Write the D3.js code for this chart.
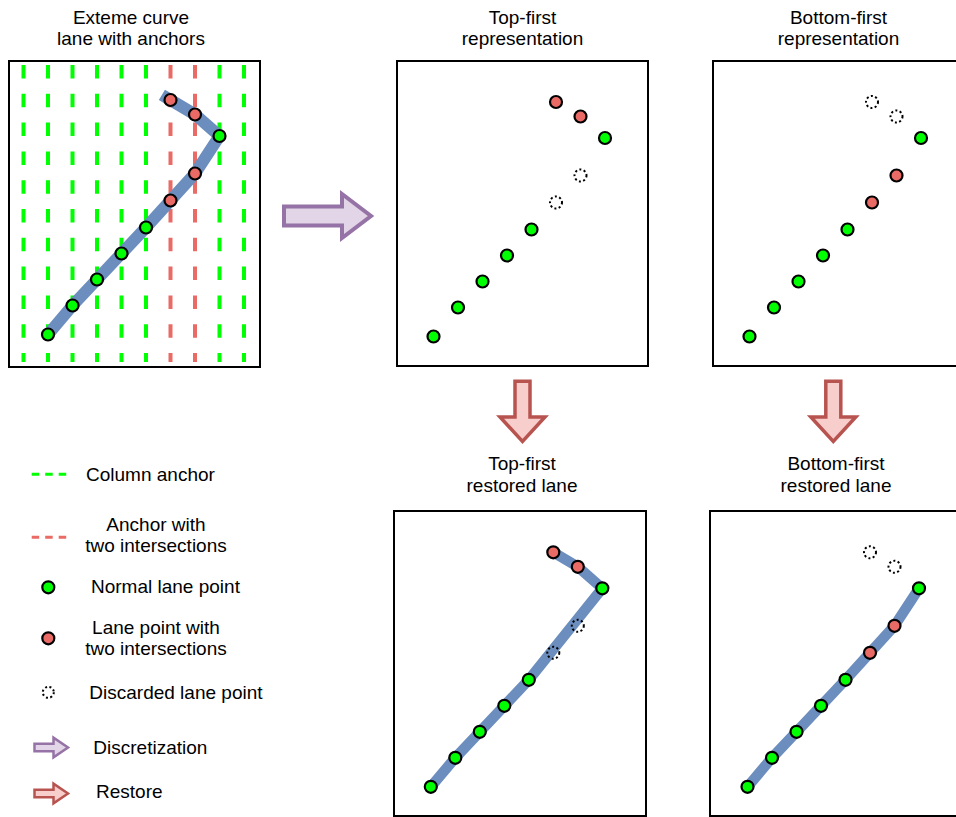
<!DOCTYPE html>
<html><head><meta charset="utf-8">
<script src="https://cdn.jsdelivr.net/npm/d3@7"></script>
<style>
body{margin:0;background:#fff}
svg{display:block}
text{font-family:"Liberation Sans",Arial,Helvetica,sans-serif;font-size:19px;fill:#000}
</style>
</head><body>
<svg id="c" width="956" height="817"></svg>
<script>
// ---------- data ----------
const anchorColumns = [0, 1, 2, 3, 4, 5, 6, 7, 8, 9];
const doubleAnchorColumns = [6, 7];
const laneColumns = [6, 7, 8, 7, 6, 5, 4, 3, 2, 1];
const laneRows = [40, 54.5, 76, 113.5, 140.5, 167.5, 193.5, 219.5, 245.5, 274.5];
const originalTypes = ["double","double","normal","double","double","normal","normal","normal","normal","normal"];
const topFirstTypes = ["double","double","normal","discard","discard","normal","normal","normal","normal","normal"];
const bottomFirstTypes = ["discard","discard","normal","double","double","normal","normal","normal","normal","normal"];
const topFirstRestored = [0, 1, 2, 5, 6, 7, 8, 9];
const bottomFirstRestored = [2, 3, 4, 5, 6, 7, 8, 9];
const panelTitles = [
  ["Exteme curve", "lane with anchors"],
  ["Top-first", "representation"],
  ["Bottom-first", "representation"],
  ["Top-first", "restored lane"],
  ["Bottom-first", "restored lane"]
];
const legendLabels = [
  ["Column anchor"],
  ["Anchor with", "two intersections"],
  ["Normal lane point"],
  ["Lane point with", "two intersections"],
  ["Discarded lane point"],
  ["Discretization"],
  ["Restore"]
];

// ---------- styles ----------
const C = {
  green: "#00ff00", red: "#ea6b66", blue: "#6c8ebf",
  purpleStroke: "#9673a6", purpleFill: "#e1d5e7",
  redStroke: "#b85450", redFill: "#f8cecc"
};

const svg = d3.select("#c");
const x = d3.scaleLinear().domain([0, 9]).range([14.5, 235]);
const y = d3.scaleLinear().domain([0, 300]).range([0, 300]);

const lanePts = laneColumns.map((c, i) => ({ x: x(c), y: y(laneRows[i]), i }));

// panel layout: box + point origin
const panels = [
  { box: [9, 61, 251, 306], org: [9, 60], title: [131, 23.5], types: originalTypes, lane: "full" },
  { box: [397, 61, 251, 305], org: [394.5, 62], title: [522.5, 23.5], types: topFirstTypes, lane: null },
  { box: [713, 61, 251, 305], org: [710.5, 62], title: [838.5, 23.5], types: bottomFirstTypes, lane: null },
  { box: [394, 511, 252, 305], org: [391.8, 512.3], title: [522, 470], types: topFirstTypes, lane: topFirstRestored },
  { box: [710, 511, 252, 305], org: [708.5, 512.3], title: [836, 470], types: bottomFirstTypes, lane: bottomFirstRestored }
];

function drawPoint(g, px, py, type, r) {
  if (type === "discard") {
    g.append("circle").attr("cx", px).attr("cy", py).attr("r", r)
      .attr("fill", "none").attr("stroke", "#000").attr("stroke-width", 2)
      .attr("stroke-dasharray", "2,2.4");
  } else {
    g.append("circle").attr("cx", px).attr("cy", py).attr("r", r)
      .attr("fill", type === "double" ? C.red : C.green)
      .attr("stroke", "#000").attr("stroke-width", 2.2);
  }
}

panels.forEach((p, k) => {
  svg.append("rect").attr("x", p.box[0]).attr("y", p.box[1])
    .attr("width", p.box[2]).attr("height", p.box[3])
    .attr("fill", "none").attr("stroke", "#000").attr("stroke-width", 2);
  panelTitles[k].forEach((t, j) => {
    svg.append("text").attr("x", p.title[0]).attr("y", p.title[1] + j * 21.5)
      .attr("text-anchor", "middle").text(t);
  });
  const g = svg.append("g").attr("transform", `translate(${p.org[0]},${p.org[1]})`);
  if (k === 0) {
    g.selectAll("line.anchor").data(anchorColumns).join("line")
      .attr("x1", d => x(d)).attr("x2", d => x(d))
      .attr("y1", y(5)).attr("y2", y(302))
      .attr("stroke", d => doubleAnchorColumns.includes(d) ? C.red : C.green)
      .attr("stroke-width", 4).attr("stroke-dasharray", "13.5,15.3");
    const p0 = lanePts[0], p1 = lanePts[1];
    const dx = p1.x - p0.x, dy = p1.y - p0.y, L = Math.hypot(dx, dy);
    const start = { x: p0.x - dx / L * 10, y: p0.y - dy / L * 10 };
    const pts = [start, ...lanePts];
    g.append("path").attr("d", d3.line().x(d => d.x).y(d => d.y)(pts))
      .attr("fill", "none").attr("stroke", C.blue).attr("stroke-width", 12)
      .attr("stroke-linejoin", "round").attr("stroke-linecap", "butt");
  } else if (p.lane) {
    const pts = p.lane.map(i => lanePts[i]);
    g.append("path").attr("d", d3.line().x(d => d.x).y(d => d.y)(pts))
      .attr("fill", "none").attr("stroke", C.blue).attr("stroke-width", 10.5)
      .attr("stroke-linejoin", "miter").attr("stroke-linecap", "butt");
  }
  lanePts.forEach((pt, i) => drawPoint(g, pt.x, pt.y, p.types[i], 6));
});

// ---------- arrows ----------
function rightArrow(x0, xb, tip, yc, sh, hh) {
  return `M${x0},${yc - sh}L${xb},${yc - sh}L${xb},${yc - hh}L${tip},${yc}L${xb},${yc + hh}L${xb},${yc + sh}L${x0},${yc + sh}Z`;
}
function downArrow(y0, yb, tip, xc, sh, hh) {
  return `M${xc - sh},${y0}L${xc - sh},${yb}L${xc - hh},${yb}L${xc},${tip}L${xc + hh},${yb}L${xc + sh},${yb}L${xc + sh},${y0}Z`;
}
svg.append("path").attr("d", rightArrow(284, 342, 371, 216, 9.5, 22))
  .attr("fill", C.purpleFill).attr("stroke", C.purpleStroke).attr("stroke-width", 4);
[522.5, 833.3].forEach(xc => {
  svg.append("path").attr("d", downArrow(381.3, 417, 441.5, xc, 7.5, 22.5))
    .attr("fill", C.redFill).attr("stroke", C.redStroke).attr("stroke-width", 3.5);
});

// ---------- legend ----------
const lg = svg.append("g");
[[C.green, 474.3], [C.red, 537.3]].forEach(([col, yy]) => {
  lg.append("line").attr("x1", 31.7).attr("x2", 66.7).attr("y1", yy).attr("y2", yy)
    .attr("stroke", col).attr("stroke-width", 3).attr("stroke-dasharray", "7.5,6");
});
drawPoint(lg, 48.3, 587.3, "normal", 6);
drawPoint(lg, 48.3, 638.3, "double", 6);
drawPoint(lg, 48.3, 692.3, "discard", 5.5);
lg.append("path").attr("d", rightArrow(34.5, 53.5, 68, 747.5, 3.8, 9.8))
  .attr("fill", C.purpleFill).attr("stroke", C.purpleStroke).attr("stroke-width", 2.5);
lg.append("path").attr("d", rightArrow(34.5, 53.5, 68, 793.5, 3.8, 9.8))
  .attr("fill", C.redFill).attr("stroke", C.redStroke).attr("stroke-width", 2.5);

const legendText = [
  { x: 86, y: [480.7], a: "start" },
  { x: 156, y: [531, 552], a: "middle" },
  { x: 91, y: [593.3], a: "start" },
  { x: 156, y: [634, 654.5], a: "middle" },
  { x: 89.3, y: [699.3], a: "start" },
  { x: 93.3, y: [754], a: "start" },
  { x: 96, y: [798.3], a: "start" }
];
legendLabels.forEach((lines, k) => {
  lines.forEach((t, j) => {
    lg.append("text").attr("x", legendText[k].x).attr("y", legendText[k].y[j])
      .attr("text-anchor", legendText[k].a).text(t);
  });
});
</script>
</body></html>
